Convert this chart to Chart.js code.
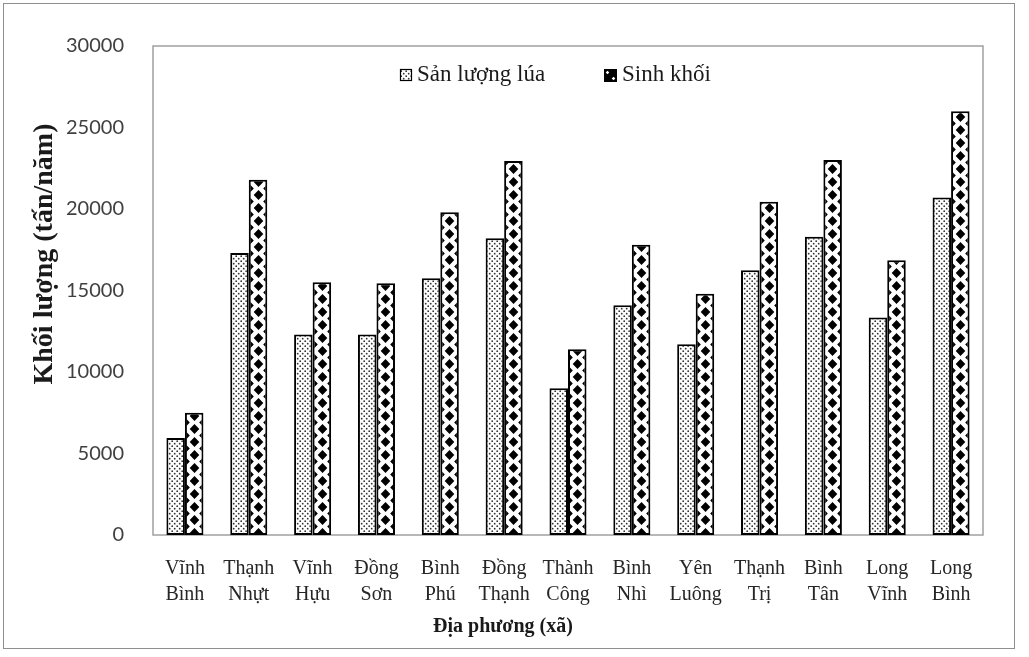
<!DOCTYPE html>
<html>
<head>
<meta charset="utf-8">
<script src="https://cdn.jsdelivr.net/npm/chart.js@4.4.1/dist/chart.umd.min.js"></script>
<style>
	html, body { margin: 0; padding: 0; background: #fff; }
	#wrap { position: relative; width: 1029px; height: 657px; }
	#frame { position: absolute; left: 3px; top: 3px; width: 1010px; height: 644px; border: 1px solid #8f8f8f; pointer-events: none; }
	canvas { position: absolute; left: 0; top: 0; }
</style>
</head>
<body>
<div id="wrap"><canvas id="chart" width="1029" height="657"></canvas><div id="frame"></div></div>
<script>
// Data
const categories = [
	['Vĩnh', 'Bình'], ['Thạnh', 'Nhựt'], ['Vĩnh', 'Hựu'], ['Đồng', 'Sơn'], ['Bình', 'Phú'],
	['Đồng', 'Thạnh'], ['Thành', 'Công'], ['Bình', 'Nhì'], ['Yên', 'Luông'], ['Thạnh', 'Trị'],
	['Bình', 'Tân'], ['Long', 'Vĩnh'], ['Long', 'Bình'],
];
const riceOutput = [5950, 17300, 12300, 12300, 15750, 18200, 9000, 14100, 11700, 16250, 18300, 13350, 20700];
const biomass = [7500, 21800, 15500, 15450, 19800, 22950, 11400, 17800, 14800, 20450, 23000, 16850, 26000];
const seriesNames = ['Sản lượng lúa', 'Sinh khối'];
const yMin = 0;
const yMax = 30000;
const yStep = 5000;
const yTitle = 'Khối lượng (tấn/năm)';
const xTitle = 'Địa phương (xã)';

const catPct = 0.58;
const serif = '"Liberation Serif", "Times New Roman", serif';

function ricePattern(ctx, offX) {
	const c = document.createElement('canvas');
	c.width = 5;
	c.height = 5;
	const g = c.getContext('2d');
	g.fillStyle = '#fff';
	g.fillRect(0, 0, 5, 5);
	g.fillStyle = '#333';
	g.beginPath();
	g.arc(1.2, 1.2, 0.9, 0, Math.PI * 2);
	g.arc(3.7, 3.7, 0.9, 0, Math.PI * 2);
	g.fill();
	const p = ctx.createPattern(c, 'repeat');
	p.setTransform(new DOMMatrix().translate(offX, 0));
	return p;
}

function diamond(g, cx, cy, hw, hh) {
	g.moveTo(cx, cy - hh);
	g.lineTo(cx + hw, cy);
	g.lineTo(cx, cy + hh);
	g.lineTo(cx - hw, cy);
	g.closePath();
}

function bioPattern(ctx, w, offX) {
	const h = 13;
	const c = document.createElement('canvas');
	c.width = w;
	c.height = h;
	const g = c.getContext('2d');
	g.fillStyle = '#fff';
	g.fillRect(0, 0, w, h);
	g.fillStyle = '#000';
	g.beginPath();
	diamond(g, w / 2, 0, 4.8, 5);
	diamond(g, w / 2, h, 4.8, 5);
	diamond(g, 0, h / 2, 4.8, 5);
	diamond(g, w, h / 2, 4.8, 5);
	g.fill();
	const p = ctx.createPattern(c, 'repeat');
	p.setTransform(new DOMMatrix().translate(offX, 0));
	return p;
}

function barFill(context, kind) {
	const chart = context.chart;
	const x = chart.scales.x;
	if (!x || context.dataIndex === undefined || !(x.width > 50)) return '#fff';
	const center = x.getPixelForValue(context.dataIndex);
	const bw = x.width / categories.length * catPct / 2;
	if (kind === 0) return ricePattern(chart.ctx, Math.round(center - bw));
	return bioPattern(chart.ctx, Math.max(4, Math.round(bw)), Math.round(center));
}

const decor = {
	id: 'decor',
	beforeDatasetsDraw(chart) {
		const {ctx, chartArea: a} = chart;
		ctx.save();
		ctx.strokeStyle = '#a0a0a0';
		ctx.lineWidth = 1.5;
		ctx.strokeRect(a.left, a.top, a.right - a.left, a.bottom - a.top);
		ctx.restore();
	},
	afterDraw(chart) {
		const {ctx} = chart;
		ctx.save();
		// legend
		ctx.font = '23px ' + serif;
		ctx.textBaseline = 'middle';
		ctx.textAlign = 'left';
		ctx.fillStyle = ricePattern(ctx, 0);
		ctx.fillRect(400, 69, 12, 12);
		ctx.strokeStyle = '#000';
		ctx.lineWidth = 1.2;
		ctx.strokeRect(400.5, 69.5, 11, 11);
		ctx.fillStyle = '#000';
		ctx.fillRect(604, 69, 13, 13);
		ctx.fillStyle = '#fff';
		ctx.beginPath();
		diamond(ctx, 607.5, 72.5, 1.8, 1.8);
		diamond(ctx, 613.5, 78.5, 1.8, 1.8);
		ctx.fill();
		ctx.fillStyle = '#1a1a1a';
		ctx.fillText(seriesNames[0], 417, 75);
		ctx.fillText(seriesNames[1], 622, 75);
		// axis titles
		ctx.font = 'bold 20px ' + serif;
		ctx.textAlign = 'center';
		ctx.fillText(xTitle, 503, 627);
		ctx.translate(45, 254);
		ctx.rotate(-Math.PI / 2);
		ctx.font = 'bold 28px ' + serif;
		ctx.fillText(yTitle, 0, 0);
		ctx.restore();
	},
};

new Chart(document.getElementById('chart'), {
	type: 'bar',
	data: {
		labels: categories,
		datasets: [
			{
				label: seriesNames[0],
				data: riceOutput,
				backgroundColor: (c) => barFill(c, 0),
				borderColor: '#000',
				borderWidth: 2,
				borderSkipped: false,
				categoryPercentage: catPct,
				barPercentage: 1.0,
			},
			{
				label: seriesNames[1],
				data: biomass,
				backgroundColor: (c) => barFill(c, 1),
				borderColor: '#000',
				borderWidth: 2,
				borderSkipped: false,
				categoryPercentage: catPct,
				barPercentage: 1.0,
			},
		],
	},
	options: {
		responsive: false,
		animation: false,
		events: [],
		layout: {padding: {left: 0, top: 46, right: 46, bottom: 0}},
		scales: {
			x: {
				grid: {display: false},
				border: {display: false},
				ticks: {
					color: '#262626',
					font: {family: serif, size: 20, lineHeight: 1.3},
					padding: 13,
					maxRotation: 0,
					autoSkip: false,
				},
				afterFit(scale) { scale.height = 122; },
			},
			y: {
				min: yMin,
				max: yMax,
				grid: {display: false},
				border: {display: false},
				ticks: {
					stepSize: yStep,
					color: '#404040',
					font: {family: 'Lato, "Open Sans", sans-serif', size: 20},
					padding: 21,
					callback: (v) => String(v),
				},
				afterFit(scale) { scale.width = 153; },
			},
		},
		plugins: {
			legend: {display: false},
			tooltip: {enabled: false},
		},
	},
	plugins: [decor],
});
</script>
</body>
</html>
